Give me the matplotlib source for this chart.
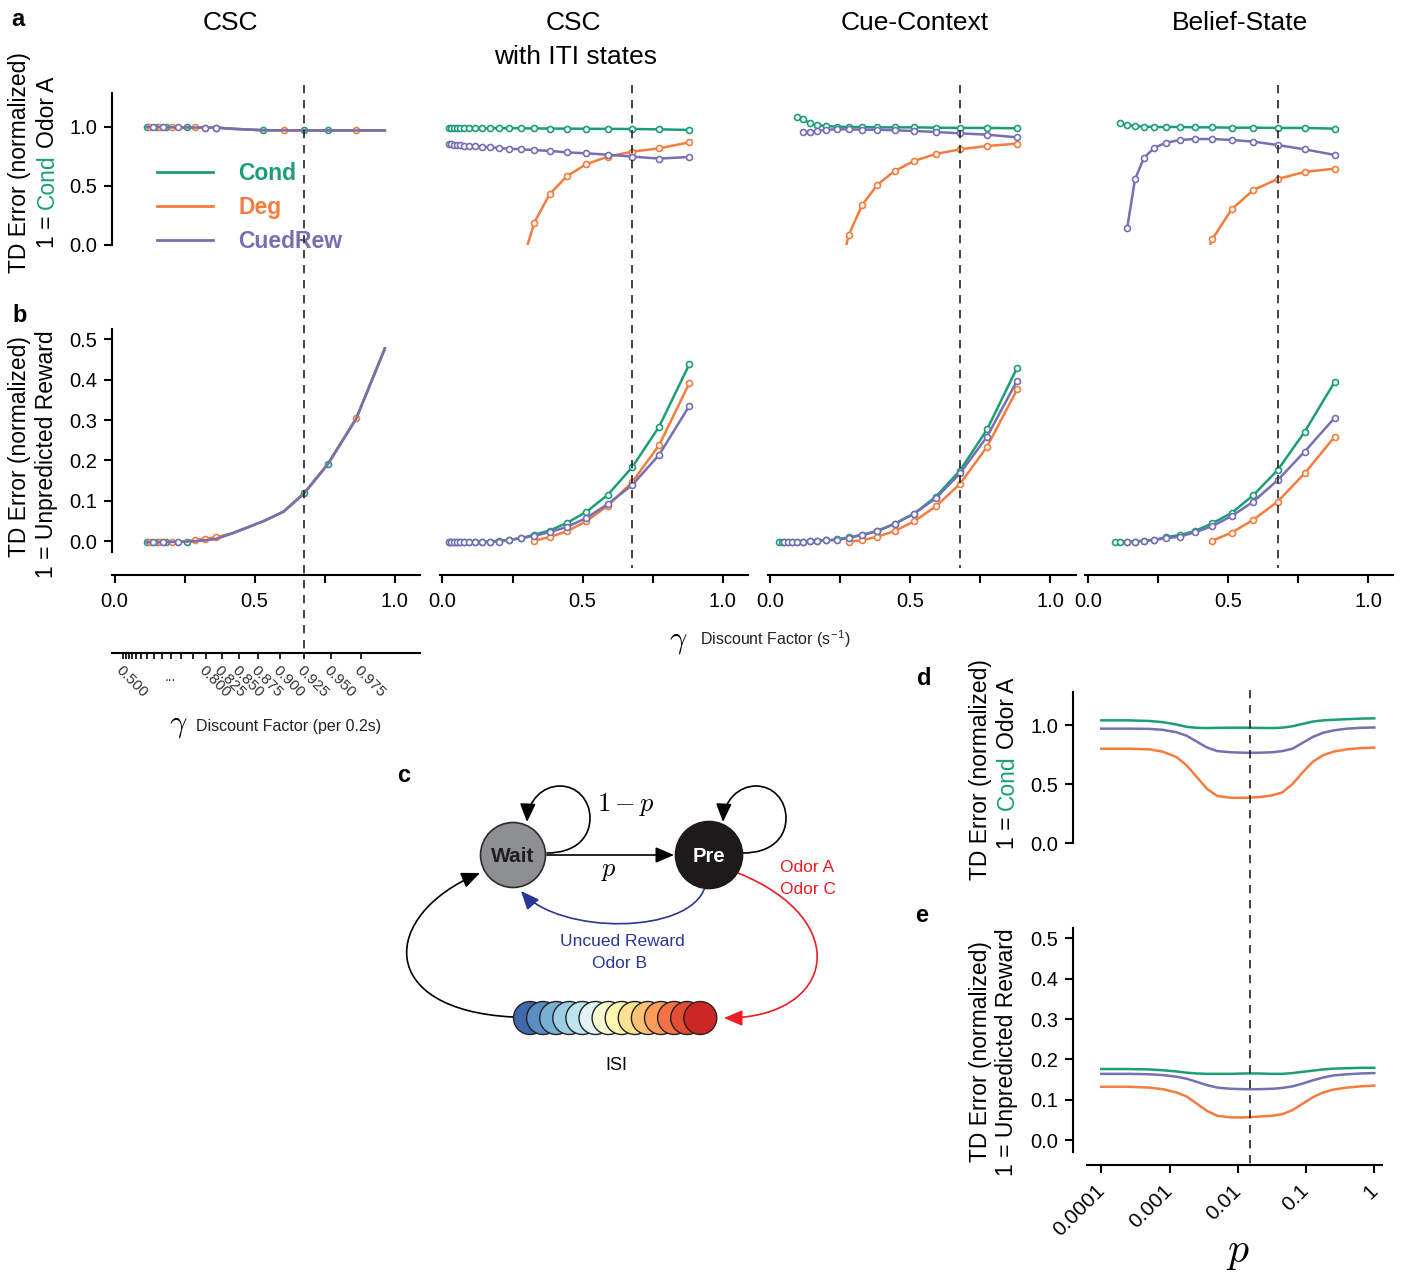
import numpy as np
import matplotlib
matplotlib.use('Agg')
import matplotlib.pyplot as plt
from matplotlib import transforms
from matplotlib.lines import Line2D
from matplotlib.patches import Circle, FancyArrowPatch
from matplotlib.path import Path
from matplotlib.ticker import NullLocator

plt.rcParams['font.family'] = ['Liberation Sans', 'DejaVu Sans']
plt.rcParams['mathtext.fontset'] = 'cm'
plt.rcParams['axes.linewidth'] = 1.5

nan = np.nan
GREEN, ORANGE, PURPLE = '#1b9e77', '#f47d3e', '#7570b3'
colors = [GREEN, ORANGE, PURPLE]
names = ['Cond', 'Deg', 'CuedRew']

# discount factor per 0.2 s (grid used by ITI, cue-context and belief-state models)
gamma_grid = [0.475, 0.5, 0.525, 0.55, 0.575, 0.6, 0.625, 0.65, 0.675, 0.7, 0.725,
              0.75, 0.775, 0.8, 0.825, 0.85, 0.875, 0.9, 0.925, 0.95, 0.975]

# CSC model uses its own gamma values
csc_gamma = [0.649, 0.661, 0.674, 0.685, 0.695, 0.705, 0.714, 0.728, 0.744, 0.763,
             0.78, 0.798, 0.817, 0.842, 0.881, 0.904, 0.925, 0.947, 0.971, 0.993]
csc_a_cond = [0.999, 0.999, 0.998, 0.998, 0.998, 0.998, 0.997, 0.997, 0.997, 0.996,
              0.996, 0.995, 0.995, 0.985, 0.973, 0.972, 0.972, 0.972, 0.971, 0.971]
csc_a_deg = [0.998, 0.998, 0.998, 0.998, 0.997, 0.997, 0.997, 0.997, 0.996, 0.996,
             0.996, 0.995, 0.995, 0.984, 0.972, 0.971, 0.971, 0.971, 0.971, 0.970]
csc_a_cued = [0.999, 0.999, 0.998, 0.998, 0.998, 0.997, 0.997, 0.997, 0.996, 0.996,
              0.995, 0.995, 0.994, 0.984, 0.972, 0.972, 0.971, 0.971, 0.971, 0.971]
csc_b_cond = [-0.003, -0.003, -0.003, -0.003, -0.003, -0.003, -0.003, -0.002, -0.002, -0.001,
              0.0, 0.002, 0.006, 0.02, 0.049, 0.073, 0.119, 0.191, 0.304, 0.478]
csc_b_deg = [-0.003, -0.003, -0.002, -0.002, -0.002, -0.002, -0.002, -0.001, -0.001, 0.0,
             0.003, 0.006, 0.01, 0.02, 0.049, 0.073, 0.119, 0.191, 0.305, 0.476]
csc_b_cued = [-0.003, -0.003, -0.003, -0.003, -0.003, -0.003, -0.003, -0.002, -0.002, -0.001,
              0.0, 0.002, 0.006, 0.02, 0.049, 0.073, 0.118, 0.19, 0.303, 0.478]

# CSC with ITI states
iti_a_cond = [0.99, 0.99, 0.99, 0.99, 0.99, 0.99, 0.99, 0.99, 0.99, 0.99, 0.99,
              0.99, 0.989, 0.988, 0.987, 0.986, 0.985, 0.984, 0.983, 0.98, 0.975]
iti_a_deg = [nan, nan, nan, nan, nan, nan, nan, nan, nan, nan, nan,
             nan, -0.19, 0.189, 0.429, 0.582, 0.684, 0.749, 0.791, 0.819, 0.87]
iti_a_cued = [0.856, 0.853, 0.85, 0.847, 0.845, 0.842, 0.839, 0.836, 0.833, 0.828, 0.822,
              0.816, 0.811, 0.805, 0.797, 0.785, 0.777, 0.765, 0.749, 0.732, 0.746]
iti_b_cond = [-0.001, -0.001, -0.001, -0.001, -0.001, -0.001, -0.001, -0.001, -0.001, -0.001, 0.001,
              0.003, 0.007, 0.016, 0.026, 0.045, 0.072, 0.115, 0.183, 0.284, 0.438]
iti_b_deg = [nan, nan, nan, nan, nan, nan, nan, nan, nan, nan, nan,
             nan, nan, 0.001, 0.01, 0.024, 0.049, 0.088, 0.146, 0.238, 0.391]
iti_b_cued = [-0.001, -0.001, -0.001, -0.001, -0.001, -0.001, -0.001, -0.001, -0.001, -0.001, -0.001,
              0.003, 0.007, 0.013, 0.022, 0.035, 0.057, 0.092, 0.139, 0.214, 0.335]

# Cue-Context
cc_a_cond = [nan, nan, nan, nan, nan, nan, 1.087, 1.068, 1.031, 1.014, 1.008,
             1.003, 1.0, 1.0, 0.997, 0.997, 0.997, 0.994, 0.992, 0.992, 0.989]
cc_a_deg = [nan, nan, nan, nan, nan, nan, nan, nan, nan, nan, nan,
            -0.35, 0.085, 0.339, 0.511, 0.627, 0.712, 0.771, 0.811, 0.839, 0.859]
cc_a_cued = [nan, nan, nan, nan, nan, nan, nan, 0.96, 0.96, 0.966, 0.977,
             0.98, 0.98, 0.977, 0.977, 0.972, 0.966, 0.958, 0.946, 0.935, 0.912]
cc_b_cond = [nan, -0.001, -0.001, -0.001, -0.001, -0.001, -0.001, -0.001, 0.0, 0.001, 0.002,
             0.004, 0.009, 0.015, 0.025, 0.043, 0.068, 0.11, 0.175, 0.277, 0.43]
cc_b_deg = [nan, nan, nan, nan, nan, nan, nan, nan, nan, nan, nan,
            nan, -0.001, 0.002, 0.011, 0.025, 0.049, 0.086, 0.142, 0.234, 0.376]
cc_b_cued = [nan, nan, nan, -0.001, -0.001, -0.001, -0.001, -0.001, 0.0, 0.001, 0.002,
             0.003, 0.008, 0.016, 0.025, 0.043, 0.068, 0.106, 0.168, 0.259, 0.398]

# Belief-State
bs_a_cond = [nan, nan, nan, nan, nan, nan, nan, 1.031, 1.017, 1.008, 1.003,
             1.0, 1.0, 1.0, 0.997, 0.997, 0.994, 0.994, 0.992, 0.992, 0.986]
bs_a_deg = [nan, nan, nan, nan, nan, nan, nan, nan, nan, nan, nan,
            nan, nan, nan, -0.35, 0.048, 0.302, 0.466, 0.559, 0.619, 0.647]
bs_a_cued = [nan, nan, nan, nan, nan, nan, nan, nan, 0.147, 0.559, 0.74,
             0.825, 0.867, 0.89, 0.898, 0.898, 0.89, 0.876, 0.847, 0.811, 0.763]
bs_b_cond = [nan, nan, nan, nan, nan, nan, -0.001, -0.001, -0.001, -0.001, 0.001,
             0.003, 0.01, 0.015, 0.025, 0.044, 0.07, 0.114, 0.176, 0.271, 0.395]
bs_b_deg = [nan, nan, nan, nan, nan, nan, nan, nan, nan, nan, nan,
            nan, nan, nan, nan, 0.001, 0.021, 0.053, 0.098, 0.168, 0.259]
bs_b_cued = [nan, nan, nan, nan, nan, nan, nan, nan, -0.001, -0.001, 0.001,
             0.003, 0.007, 0.011, 0.022, 0.037, 0.062, 0.098, 0.151, 0.222, 0.306]

titles = ['CSC', 'CSC', 'Cue-Context', 'Belief-State']
gamma_best = 0.925

# secondary axis ticks (gamma per 0.2 s)
sec_gammas = [0.5, 0.525, 0.55, 0.575, 0.6, 0.625, 0.65, 0.675, 0.7, 0.725,
              0.75, 0.775, 0.8, 0.825, 0.85, 0.875, 0.9, 0.925, 0.95, 0.975]
sec_labels = ['0.500', '', '', '', '', '', '', '', '', '',
              '', '', '0.800', '0.825', '0.850', '0.875', '0.900', '0.925', '0.950', '0.975']

# panels d/e: TD error vs p
p_log = [-4.0, -3.6, -3.3, -3.1, -2.9, -2.75, -2.6, -2.45, -2.3, -2.1, -1.9,
         -1.7, -1.5, -1.35, -1.2, -1.05, -0.9, -0.75, -0.6, -0.4, -0.2, 0.0]
d_cond = [1.04, 1.04, 1.035, 1.025, 1.005, 0.985, 0.977, 0.975, 0.977, 0.978, 0.978,
          0.976, 0.975, 0.978, 0.99, 1.01, 1.03, 1.04, 1.045, 1.05, 1.055, 1.057]
d_deg = [0.80, 0.80, 0.795, 0.775, 0.73, 0.66, 0.56, 0.46, 0.40, 0.385, 0.385,
         0.39, 0.405, 0.43, 0.50, 0.60, 0.69, 0.745, 0.775, 0.795, 0.805, 0.81]
d_cued = [0.97, 0.97, 0.968, 0.96, 0.94, 0.91, 0.86, 0.81, 0.78, 0.77, 0.766,
          0.766, 0.77, 0.78, 0.80, 0.85, 0.90, 0.935, 0.955, 0.97, 0.977, 0.98]
e_cond = [0.176, 0.176, 0.175, 0.173, 0.170, 0.167, 0.165, 0.164, 0.164, 0.164, 0.165,
          0.165, 0.164, 0.164, 0.166, 0.169, 0.172, 0.175, 0.177, 0.178, 0.179, 0.179]
e_deg = [0.132, 0.132, 0.130, 0.126, 0.118, 0.108, 0.090, 0.072, 0.060, 0.056, 0.056,
         0.058, 0.060, 0.064, 0.074, 0.090, 0.106, 0.118, 0.125, 0.130, 0.133, 0.135]
e_cued = [0.164, 0.164, 0.163, 0.161, 0.157, 0.152, 0.144, 0.136, 0.130, 0.127, 0.126,
          0.126, 0.127, 0.129, 0.133, 0.140, 0.148, 0.155, 0.160, 0.163, 0.165, 0.166]
p_best = 0.015

n_isi = 14

# ------------------------------------------------------------------
W, H = 1410, 1276
fig = plt.figure(figsize=(W / 100, H / 100), dpi=100)
renderer = fig.canvas.get_renderer()


def fx(x):
    return x / W


def fy(y):
    return 1 - y / H


def add_ax(x0, y0, x1, y1):
    return fig.add_axes([x0 / W, 1 - y1 / H, (x1 - x0) / W, (y1 - y0) / H])


def text_width(s, size):
    t = fig.text(0, 0, s, fontsize=size)
    w = t.get_window_extent(renderer).width
    t.remove()
    return w


def vlabel(xp, yc, parts, size=16.5):
    # vertical label made of coloured pieces, read bottom to top
    full = ''.join(s for s, _ in parts)
    y0 = yc + text_width(full, size) / 2  # pixel of the bottom end
    done = ''
    for s, c in parts:
        core = s.strip()
        lead = s[:len(s) - len(s.lstrip())]
        pre = done + lead
        off = text_width(pre + core, size) - text_width(core, size) if pre else 0
        fig.text(fx(xp), fy(y0 - off), core, rotation=90, ha='center', va='bottom',
                 fontsize=size, color=c)
        done += s


def style_ticks(ax):
    ax.tick_params(length=5.5, width=1.5, labelsize=14.5, pad=5, color='k')


XMIN, XMAX = -0.01, 1.09
PXU = 280
col_origin = [114.5, 442.5, 770.4, 1088]
x_grid = np.array(gamma_grid) ** 5
x_csc = np.array(csc_gamma) ** 5

panel_data = [
    (x_csc, [csc_a_cond, csc_a_deg, csc_a_cued], [csc_b_cond, csc_b_deg, csc_b_cued]),
    (x_grid, [iti_a_cond, iti_a_deg, iti_a_cued], [iti_b_cond, iti_b_deg, iti_b_cued]),
    (x_grid, [cc_a_cond, cc_a_deg, cc_a_cued], [cc_b_cond, cc_b_deg, cc_b_cued]),
    (x_grid, [bs_a_cond, bs_a_deg, bs_a_cued], [bs_b_cond, bs_b_deg, bs_b_cued]),
]
csc_marks_a = [[0, 3, 6, 9, 12, 14, 16, 17], [1, 4, 7, 10, 11, 15, 18], [2, 5, 8, 11, 12]]
csc_marks_b = [[0, 3, 6, 9, 16, 17], [1, 4, 7, 10, 11, 12, 18], [2, 5, 8]]

axes_a, axes_b = [], []
for j, (xs, ya, yb) in enumerate(panel_data):
    left = col_origin[j] + XMIN * PXU
    right = col_origin[j] + XMAX * PXU
    ax_a = add_ax(left, 93, right, 245)
    ax_b = add_ax(left, 329, right, 552)
    axes_a.append(ax_a)
    axes_b.append(ax_b)
    for ax, ys, lim in ((ax_a, ya, (0, 1.288)), (ax_b, yb, (-0.027, 0.526))):
        marks = None
        if j == 0:
            marks = csc_marks_a if ax is ax_a else csc_marks_b
        for k, (y, c) in enumerate(zip(ys, colors)):
            ax.plot(xs, y, color=c, lw=1.8, marker='o', ms=4.3, mfc='white', mec=c,
                    mew=1.2, markevery=None if marks is None else marks[k], zorder=3)
        ax.set_xlim(XMIN, XMAX)
        ax.set_ylim(*lim)
        ax.patch.set_alpha(0)
        for s in ('top', 'right'):
            ax.spines[s].set_visible(False)
        style_ticks(ax)
        if j > 0:
            ax.spines['left'].set_visible(False)
            ax.set_yticks([])
    ax_a.spines['bottom'].set_visible(False)
    ax_a.set_xticks([])
    ax_b.spines['bottom'].set_position(('outward', 16.5))
    ax_b.set_xticks([0, 0.25, 0.5, 0.75, 1.0])
    ax_b.set_xticklabels(['0.0', '', '0.5', '', '1.0'])
    ax_b.tick_params(axis='x', pad=7)
    if j == 0:
        ax_a.set_yticks([0, 0.5, 1.0])
        ax_a.set_yticklabels(['0.0', '0.5', '1.0'])
        ax_b.set_yticks([0, 0.1, 0.2, 0.3, 0.4, 0.5])
        ax_b.set_yticklabels(['0.0', '0.1', '0.2', '0.3', '0.4', '0.5'])

    # best-fit discount factor
    bottom = 657 if j == 0 else 568
    tr = transforms.blended_transform_factory(ax_a.transData, fig.transFigure)
    fig.add_artist(Line2D([gamma_best ** 5] * 2, [fy(85), fy(bottom)], transform=tr,
                          color='#222222', lw=1.2, ls=(0, (5, 4)), zorder=6))

# titles
fig.text(fx(230), fy(23), titles[0], ha='center', va='center', fontsize=19)
fig.text(fx(573), fy(23), titles[1], ha='center', va='center', fontsize=19)
fig.text(fx(576), fy(57), 'with ITI states', ha='center', va='center', fontsize=19)
fig.text(fx(915), fy(23), titles[2], ha='center', va='center', fontsize=19)
fig.text(fx(1240), fy(23), titles[3], ha='center', va='center', fontsize=19)

# legend
handles = [Line2D([], [], color=c, lw=2) for c in colors]
leg = axes_a[0].legend(handles, names, loc='upper left', bbox_to_anchor=(fx(157), fy(162)),
                       bbox_transform=fig.transFigure, frameon=False, handlelength=2.45,
                       handletextpad=1.1, labelspacing=0.48, borderpad=0, borderaxespad=0,
                       prop={'weight': 'bold', 'size': 16.5})
for t, c in zip(leg.get_texts(), colors):
    t.set_color(c)

# secondary axis: gamma per 0.2 s
left0 = col_origin[0] + XMIN * PXU
ax2 = add_ax(left0, 652, col_origin[0] + XMAX * PXU, 653)
ax2.set_xlim(XMIN, XMAX)
ax2.set_yticks([])
ax2.patch.set_alpha(0)
for s in ('top', 'left', 'right'):
    ax2.spines[s].set_visible(False)
ax2.set_xticks(np.array(sec_gammas) ** 5)
ax2.set_xticklabels(sec_labels, rotation=-45, ha='left', va='top', rotation_mode='anchor',
                    fontsize=11, color='#333333')
ax2.tick_params(axis='x', length=4, width=1.2, pad=3)
ax2.text(0.725 ** 5, -24, '...', transform=transforms.blended_transform_factory(
    ax2.transData, transforms.offset_copy(ax2.transAxes, fig=fig, y=0, units='dots')),
    ha='center', va='center', fontsize=10, color='#333333')

# x labels
fig.text(fx(678), fy(641), r'$\gamma$', fontsize=22, ha='center', va='center')
fig.text(fx(700), fy(639), r'Discount Factor (s$^{\mathregular{-1}}$)', fontsize=11.5,
         ha='left', va='center', color='#222222')
fig.text(fx(178), fy(725), r'$\gamma$', fontsize=22, ha='center', va='center')
fig.text(fx(196), fy(727), 'Discount Factor (per 0.2s)', fontsize=11.5, ha='left',
         va='center', color='#222222')

# y labels
vlabel(20, 163, [('TD Error (normalized)', 'k')])
vlabel(47, 162, [('1 = ', 'k'), ('Cond', GREEN), (' Odor A', 'k')])
vlabel(20, 447, [('TD Error (normalized)', 'k')])
vlabel(47, 454, [('1 = Unpredicted Reward', 'k')])
vlabel(980, 770, [('TD Error (normalized)', 'k')])
vlabel(1007, 763, [('1 = ', 'k'), ('Cond', GREEN), (' Odor A', 'k')])
vlabel(980, 1052, [('TD Error (normalized)', 'k')])
vlabel(1007, 1052, [('1 = Unpredicted Reward', 'k')])

# panel letters
for letter, (lx, ly) in zip('abcde', [(18, 20), (20, 315), (404, 776), (924, 678), (922, 915)]):
    fig.text(fx(lx), fy(ly), letter, fontsize=17, fontweight='bold', ha='center', va='center')

# ---------------- panel c: state diagram ----------------
axc = add_ax(380, 760, 860, 1100)
axc.set_xlim(380, 860)
axc.set_ylim(1100, 760)
axc.axis('off')

blue, red = '#2b3595', '#ec1c24'
axc.add_patch(Circle((513, 855), 32.5, fc='#8e8f93', ec='#2b2b2b', lw=1.2, zorder=3))
axc.add_patch(Circle((709, 855), 33.5, fc='#1c1a1b', ec='#1c1a1b', lw=1.2, zorder=3))
axc.text(513, 856, 'Wait', ha='center', va='center', fontsize=15, fontweight='bold',
         color='#1e1e1e', zorder=4)
axc.text(709, 856, 'Pre', ha='center', va='center', fontsize=14.5, fontweight='bold',
         color='white', zorder=4)

C4 = Path.CURVE4


def arrow(verts, codes, color):
    axc.add_patch(FancyArrowPatch(path=Path(verts, codes), arrowstyle='-|>,head_length=0.7,head_width=0.3',
                                  mutation_scale=16, lw=1.2, color=color, shrinkA=0, shrinkB=0,
                                  zorder=2))


loop = [(34, -2), (62, -2), (77, -17), (77, -37), (77, -55), (64, -69), (47, -69),
        (30, -69), (15, -55), (14, -33)]
loop_codes = [Path.MOVETO, C4, C4, C4, C4, C4, C4, C4, C4, C4]
for cx in (513, 709):
    arrow([(cx + dx, 855 + dy) for dx, dy in loop], loop_codes, 'k')
arrow([(547, 855), (674, 855)], [Path.MOVETO, Path.LINETO], 'k')
arrow([(705, 887), (690, 935), (560, 935), (521, 891)], [Path.MOVETO, C4, C4, C4], blue)
arrow([(738, 873), (855, 920), (835, 1018), (724, 1018)], [Path.MOVETO, C4, C4, C4], red)
arrow([(513, 1017), (375, 1010), (380, 915), (480, 873)], [Path.MOVETO, C4, C4, C4], 'k')

isi_colors = plt.cm.RdYlBu_r(np.linspace(0.08, 0.92, n_isi))
for i, c in enumerate(isi_colors):
    axc.add_patch(Circle((530 + 13.1 * i, 1018), 16.5, fc=c, ec='#222222', lw=1, zorder=3))

axc.text(626, 805, r'$1-p$', fontsize=19, ha='center', va='center')
axc.text(609, 871, r'$p$', fontsize=19, ha='center', va='center')
axc.text(622, 942, 'Uncued Reward', color=blue, fontsize=12.5, ha='center', va='center')
axc.text(619, 964, 'Odor B', color=blue, fontsize=12.5, ha='center', va='center')
axc.text(780, 868, 'Odor A', color=red, fontsize=12.5, ha='left', va='center')
axc.text(780, 890, 'Odor C', color=red, fontsize=12.5, ha='left', va='center')
axc.text(616, 1066, 'ISI', fontsize=13, ha='center', va='center')

# ---------------- panels d, e ----------------
p_vals = 10 ** np.array(p_log)
ax_d = add_ax(1087, 692, 1382, 843.3)
ax_e = add_ax(1087, 928.3, 1382, 1151.7)
for ax, ys, lim in ((ax_d, [d_cond, d_deg, d_cued], (0, 1.28)),
                    (ax_e, [e_cond, e_deg, e_cued], (-0.029, 0.525))):
    for y, c in zip(ys, colors):
        ax.plot(p_vals, y, color=c, lw=1.8)
    ax.set_xscale('log')
    ax.set_xlim(10 ** -4.21, 10 ** 0.113)
    ax.set_ylim(*lim)
    ax.patch.set_alpha(0)
    for s in ('top', 'right'):
        ax.spines[s].set_visible(False)
    ax.spines['left'].set_position(('outward', 10))
    style_ticks(ax)
    ax.xaxis.set_minor_locator(NullLocator())

ax_d.spines['bottom'].set_visible(False)
ax_d.set_xticks([])
ax_d.set_yticks([0, 0.5, 1.0])
ax_d.set_yticklabels(['0.0', '0.5', '1.0'])
ax_e.set_yticks([0, 0.1, 0.2, 0.3, 0.4, 0.5])
ax_e.set_yticklabels(['0.0', '0.1', '0.2', '0.3', '0.4', '0.5'])
ax_e.spines['bottom'].set_position(('outward', 9.5))
ax_e.set_xticks([1e-4, 1e-3, 1e-2, 1e-1, 1])
ax_e.set_xticklabels(['0.0001', '0.001', '0.01', '0.1', '1'], rotation=45, ha='right',
                     va='center', rotation_mode='anchor', fontsize=15)
ax_e.tick_params(axis='x', pad=11)
fig.text(fx(1238), fy(1252), r'$p$', fontsize=30, ha='center', va='center')

tr = transforms.blended_transform_factory(ax_e.transData, fig.transFigure)
fig.add_artist(Line2D([p_best] * 2, [fy(690), fy(1170)], transform=tr,
                      color='#222222', lw=1.2, ls=(0, (5, 4)), zorder=6))

fig.savefig('out.png', dpi=100)
